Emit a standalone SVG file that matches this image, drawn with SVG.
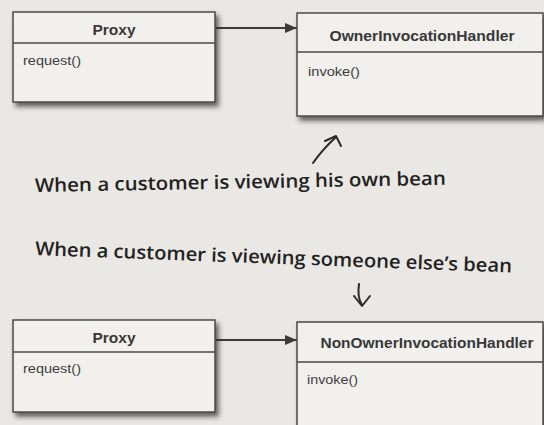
<svg xmlns="http://www.w3.org/2000/svg" width="544" height="425" viewBox="0 0 544 425">
<style>
.box{fill:#f2f0ed;stroke:#4a4a4a;stroke-width:1.5}
.div{stroke:#4a4a4a;stroke-width:1.5}
.cname{font-family:"Liberation Sans",Arial,sans-serif;font-weight:bold;font-size:15.5px;fill:#383838;text-anchor:middle}
.meth{font-family:"Liberation Sans",Arial,sans-serif;font-size:13px;fill:#3e3e3e}
.hand{font-family:"Open Sans","DejaVu Sans",sans-serif;font-weight:600;font-size:19px;fill:#222}
.conn{stroke:#3c3c3c;stroke-width:2.2;fill:none}
.pen{stroke:#2a2a2a;stroke-width:2;fill:none;stroke-linecap:round;stroke-linejoin:round}
</style>
<defs>
<filter id="sh" x="-10%" y="-10%" width="130%" height="140%">
<feDropShadow dx="3" dy="4" stdDeviation="2.5" flood-color="#222" flood-opacity="0.7"/>
</filter>
<marker id="ah" viewBox="0 0 12 10" refX="12" refY="5" markerWidth="12" markerHeight="10" markerUnits="userSpaceOnUse" orient="auto">
<path d="M0,0 L12,5 L0,10 Z" fill="#3c3c3c"/>
</marker>
</defs>
<rect width="544" height="425" fill="#eae8e4"/>

<g id="connectors">
<line class="conn" x1="216" y1="28" x2="297" y2="28" marker-end="url(#ah)"/>
<line class="conn" x1="216" y1="340" x2="297" y2="340" marker-end="url(#ah)"/>
</g>

<g id="proxy1">
<rect class="box" x="13" y="12" width="202" height="90" filter="url(#sh)"/>
<line class="div" x1="13" y1="43" x2="215" y2="43"/>
<text class="cname" x="114" y="35">Proxy</text>
<text class="meth" x="23" y="65" textLength="58" lengthAdjust="spacingAndGlyphs">request()</text>
</g>

<g id="ownerHandler">
<rect class="box" x="297" y="13" width="246" height="103" filter="url(#sh)"/>
<line class="div" x1="297" y1="52" x2="543" y2="52"/>
<text class="cname" x="422" y="41" textLength="185" lengthAdjust="spacingAndGlyphs">OwnerInvocationHandler</text>
<text class="meth" x="308" y="76" textLength="52" lengthAdjust="spacingAndGlyphs">invoke()</text>
</g>

<g id="proxy2">
<rect class="box" x="13" y="320" width="202" height="92" filter="url(#sh)"/>
<line class="div" x1="13" y1="352" x2="215" y2="352"/>
<text class="cname" x="114" y="343">Proxy</text>
<text class="meth" x="23" y="373" textLength="58" lengthAdjust="spacingAndGlyphs">request()</text>
</g>

<g id="nonOwnerHandler">
<rect class="box" x="297" y="322" width="246" height="110" filter="url(#sh)"/>
<line class="div" x1="297" y1="362" x2="543" y2="362"/>
<text class="cname" x="427" y="348" textLength="213" lengthAdjust="spacingAndGlyphs">NonOwnerInvocationHandler</text>
<text class="meth" x="307" y="384" textLength="51" lengthAdjust="spacingAndGlyphs">invoke()</text>
</g>

<g id="note1">
<path class="pen" d="M313,163 Q322,150 336,137"/>
<path class="pen" d="M325,141 L336,136 L341,146"/>
<text class="hand" x="35" y="192" transform="rotate(-1 35 192)" textLength="411" lengthAdjust="spacingAndGlyphs">When a customer is viewing his own bean</text>
</g>

<g id="note2">
<text class="hand" x="35" y="255" transform="rotate(2.1 35 255)" textLength="477" lengthAdjust="spacingAndGlyphs">When a customer is viewing someone else’s bean</text>
<path class="pen" d="M359,284 Q357,297 362,305"/>
<path class="pen" d="M354,296 L362,306 L370,296"/>
</g>
</svg>
